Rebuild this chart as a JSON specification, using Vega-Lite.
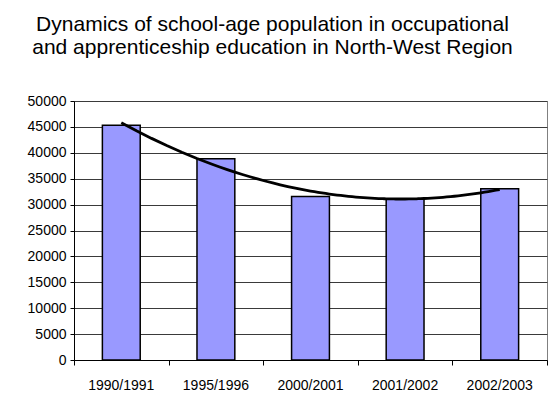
{
  "$schema": "https://vega.github.io/schema/vega-lite/v6.json",
  "autosize": "none",
  "width": 473,
  "height": 259,
  "padding": {"left": 74, "top": 101, "right": 6, "bottom": 43},
  "background": "#ffffff",
  "title": {
    "text": ["Dynamics of school-age population in occupational", "and apprenticeship education in North-West Region"],
    "font": "Liberation Sans",
    "fontSize": 21,
    "fontWeight": "normal",
    "color": "#000000",
    "lineHeight": 23,
    "anchor": "middle",
    "dx": -38,
    "offset": 36
  },
  "data": {
    "values": [
      {"year": "1990/1991", "idx": 1, "value": 45300},
      {"year": "1995/1996", "idx": 2, "value": 38860},
      {"year": "2000/2001", "idx": 3, "value": 31580},
      {"year": "2001/2002", "idx": 4, "value": 31130},
      {"year": "2002/2003", "idx": 5, "value": 33060}
    ]
  },
  "config": {
    "view": {"stroke": "#808080", "strokeWidth": 1},
    "axis": {"labelFont": "Liberation Sans", "labelFontSize": 14, "labelColor": "#000000"}
  },
  "layer": [
    {
      "mark": {"type": "bar", "fill": "#9999FF", "stroke": "#000000", "strokeWidth": 1.5},
      "encoding": {
        "x": {
          "field": "year", "type": "nominal", "sort": null,
          "scale": {"paddingInner": 0.6, "paddingOuter": 0.3},
          "axis": {"title": null, "labelAngle": 0, "ticks": false, "domain": false, "labelPadding": 18, "grid": false}
        },
        "y": {
          "field": "value", "type": "quantitative",
          "scale": {"domain": [0, 50000], "nice": false},
          "axis": {"title": null, "values": [0,5000,10000,15000,20000,25000,30000,35000,40000,45000,50000], "labelOverlap": false, "format": "d", "grid": true, "gridColor": "#3a3a3a", "gridWidth": 1, "gridOpacity": 1, "domainColor": "#000000", "tickColor": "#000000", "tickSize": 4, "labelPadding": 4}
        }
      }
    },
    {
      "transform": [{"regression": "value", "on": "idx", "method": "poly", "order": 2, "extent": [1, 5]}],
      "mark": {"type": "line", "color": "#000000", "strokeWidth": 2.8},
      "encoding": {
        "x": {
          "field": "idx", "type": "quantitative",
          "scale": {"domain": [0.5, 5.5], "nice": false, "zero": false},
          "axis": {"orient": "bottom", "title": null, "values": [0.5,1.5,2.5,3.5,4.5,5.5], "labels": false, "grid": false, "domainColor": "#000000", "tickColor": "#000000", "tickSize": 5}
        },
        "y": {
          "field": "value", "type": "quantitative",
          "scale": {"domain": [0, 50000], "nice": false},
          "axis": {"title": null, "values": [0,5000,10000,15000,20000,25000,30000,35000,40000,45000,50000], "labelOverlap": false, "format": "d", "grid": true, "gridColor": "#3a3a3a", "gridWidth": 1, "gridOpacity": 1, "domainColor": "#000000", "tickColor": "#000000", "tickSize": 4, "labelPadding": 4}
        }
      }
    }
  ],
  "resolve": {"scale": {"x": "independent"}, "axis": {"x": "independent"}}
}
